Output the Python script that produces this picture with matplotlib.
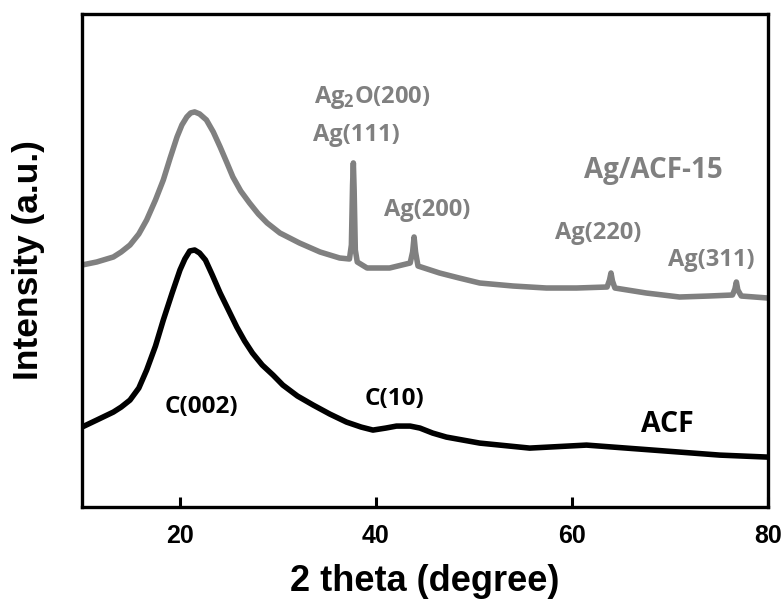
import matplotlib
matplotlib.use("Agg")
from matplotlib import pyplot as plt

# Ag/ACF-15 (grey curve), 2theta vs intensity (a.u.)
ag_x = [10, 11.5, 13.2, 14.0, 14.9, 15.8, 16.6, 17.5, 18.3, 19.0, 19.7, 20.2, 20.7, 21.1,
        21.5, 22.0, 22.7, 23.4, 24.1, 24.8, 25.4, 26.2, 27.1, 28.0, 28.9, 30.2, 31.2,
        32.2, 34.3, 36.3, 37.3, 37.5, 37.62, 37.7, 37.78, 37.9, 38.1, 39.1, 41.4,
        43.5, 43.75, 43.9, 44.05, 44.3, 46.5, 48.5, 50.6, 54.0, 57.4, 60.5, 63.6, 63.85,
        64.0, 64.15, 64.4, 67.6, 71.0, 74.0, 76.4, 76.65, 76.8, 76.95, 77.3, 80]
ag_y = [242, 245, 250, 255, 262, 273, 287, 307, 327, 349, 370, 382, 390, 394,
        395, 393, 387, 375, 360, 344, 330, 316, 304, 293, 284, 274, 269,
        264, 255, 249, 248, 262, 322, 344, 317, 257, 245, 239, 239,
        244, 255, 270, 255, 241, 234, 229, 224, 221, 219, 219, 220, 227,
        234, 226, 219, 214, 210, 211, 212, 218, 225, 217, 211, 209]

# ACF (black curve)
acf_x = [10, 11.5, 13.2, 14.0, 14.9, 15.8, 16.6, 17.5, 18.3, 19.2, 20.0, 20.5, 21.0, 21.5,
         22.0, 22.6, 23.3, 24.1, 25.0, 25.8, 26.6, 27.4, 28.4, 29.5, 30.5, 32.0, 33.6,
         35.3, 37.0, 38.5, 39.7, 41.0, 42.1, 43.5, 44.5, 45.8, 47.2, 50.6, 55.7, 61.5,
         68.3, 75.1, 80]
acf_y = [80, 87, 95, 100, 107, 119, 137, 161, 187, 214, 237, 248, 256, 257,
         254, 247, 232, 214, 196, 180, 166, 154, 142, 132, 122, 111, 102,
         93, 85, 80, 77, 79, 81, 81, 79, 74, 70, 64, 59, 62,
         57, 52, 50]

x_ticks = [20, 40, 60, 80]

grey = "#808080"
ann_font = "Open Sans"

fig = plt.figure(figsize=(7.81, 6.03), dpi=100)
ax = fig.add_axes([0.105, 0.159, 0.878, 0.818])

ax.plot(ag_x, ag_y, color=grey, lw=4, solid_joinstyle="round")
ax.plot(acf_x, acf_y, color="black", lw=4, solid_joinstyle="round")

ax.set_xlim(10, 80)
ax.set_ylim(0, 493)
ax.set_xticks(x_ticks)
ax.set_yticks([])
ax.tick_params(axis="x", direction="in", length=7, width=2.2, pad=12)
for lab in ax.get_xticklabels():
    lab.set_fontfamily("Liberation Sans")
    lab.set_fontweight("bold")
    lab.set_fontsize(18)
for s in ax.spines.values():
    s.set_linewidth(2.4)

ax.set_xlabel("2 theta (degree)", fontsize=26, fontweight="bold",
              family="Liberation Sans", labelpad=12)
ax.set_ylabel("Intensity (a.u.)", fontsize=25.5, fontweight="bold",
              family="Liberation Sans", labelpad=27)

# peak labels
def note(x, y, s, color, size=17):
    ax.text(x, y, s, color=color, fontsize=size, fontweight="bold",
            family=ann_font, ha="center", va="center")

note(39.6, 409, r"Ag$_\mathregular{2}$O(200)", grey)
note(38.0, 372, "Ag(111)", grey)
note(45.2, 297, "Ag(200)", grey)
note(62.7, 274, "Ag(220)", grey)
note(74.2, 247, "Ag(311)", grey)
note(68.3, 336, "Ag/ACF-15", grey, size=20)
note(22.2, 100, "C(002)", "black", size=17.5)
note(41.9, 108, "C(10)", "black", size=17.5)
note(69.8, 83, "ACF", "black", size=20.5)

fig.savefig("out.png", dpi=100)
